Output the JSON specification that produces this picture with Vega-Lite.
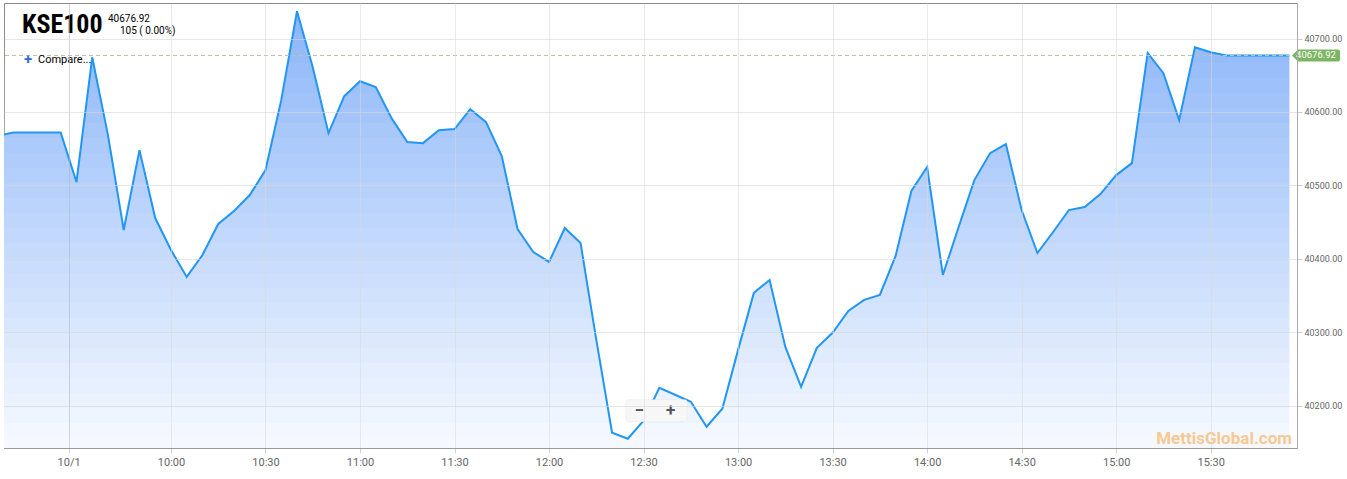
{
  "$schema": "https://vega.github.io/schema/vega-lite/v6.json",
  "width": 1293,
  "height": 445,
  "autosize": {"type": "none"},
  "padding": {"left": 4, "top": 3, "right": 50, "bottom": 31},
  "background": "white",
  "config": {"view": {"stroke": "#888888", "strokeWidth": 1}, "font": "Roboto"},
  "datasets": {
    "kse": [
      {"t": -25, "v": 40567.8}, {"t": -20, "v": 40571.92}, {"t": -15, "v": 40571.92}, {"t": -10, "v": 40571.92}, {"t": -5, "v": 40571.92},
      {"t": 0, "v": 40504.6}, {"t": 5, "v": 40674.5}, {"t": 10, "v": 40568.5}, {"t": 15, "v": 40439.3}, {"t": 20, "v": 40548.1},
      {"t": 25, "v": 40455.6}, {"t": 30, "v": 40412.1}, {"t": 35, "v": 40375.4}, {"t": 40, "v": 40405.3}, {"t": 45, "v": 40447.5},
      {"t": 50, "v": 40465.2}, {"t": 55, "v": 40486.9}, {"t": 60, "v": 40520.9}, {"t": 65, "v": 40616.1}, {"t": 70, "v": 40737.1},
      {"t": 75, "v": 40661.0}, {"t": 80, "v": 40571.2}, {"t": 85, "v": 40621.5}, {"t": 90, "v": 40641.9}, {"t": 95, "v": 40633.8},
      {"t": 100, "v": 40591.6}, {"t": 105, "v": 40559.0}, {"t": 110, "v": 40557.6}, {"t": 115, "v": 40575.3}, {"t": 120, "v": 40576.7},
      {"t": 125, "v": 40603.9}, {"t": 130, "v": 40586.2}, {"t": 135, "v": 40539.9}, {"t": 140, "v": 40440.7}, {"t": 145, "v": 40409.4},
      {"t": 150, "v": 40395.8}, {"t": 155, "v": 40442.0}, {"t": 160, "v": 40421.7}, {"t": 165, "v": 40289.7}, {"t": 170, "v": 40163.3},
      {"t": 175, "v": 40155.1}, {"t": 180, "v": 40179.6}, {"t": 185, "v": 40224.5}, {"t": 190, "v": 40215.0}, {"t": 195, "v": 40205.4},
      {"t": 200, "v": 40171.4}, {"t": 205, "v": 40195.9}, {"t": 210, "v": 40276.1}, {"t": 215, "v": 40353.7}, {"t": 220, "v": 40371.3},
      {"t": 225, "v": 40280.2}, {"t": 230, "v": 40225.8}, {"t": 235, "v": 40278.8}, {"t": 240, "v": 40299.3}, {"t": 245, "v": 40329.2},
      {"t": 250, "v": 40344.2}, {"t": 255, "v": 40351.0}, {"t": 260, "v": 40404.0}, {"t": 265, "v": 40492.4}, {"t": 270, "v": 40525.0},
      {"t": 275, "v": 40378.1}, {"t": 280, "v": 40443.4}, {"t": 285, "v": 40507.3}, {"t": 290, "v": 40544.0}, {"t": 295, "v": 40556.3},
      {"t": 300, "v": 40466.5}, {"t": 305, "v": 40408.0}, {"t": 310, "v": 40436.6}, {"t": 315, "v": 40466.5}, {"t": 320, "v": 40470.6},
      {"t": 325, "v": 40488.3}, {"t": 330, "v": 40514.1}, {"t": 335, "v": 40530.4}, {"t": 340, "v": 40680.4}, {"t": 345, "v": 40652.8},
      {"t": 350, "v": 40588.9}, {"t": 355, "v": 40688.2}, {"t": 360, "v": 40681.4}, {"t": 365, "v": 40676.92}, {"t": 370, "v": 40676.92},
      {"t": 375, "v": 40676.92}, {"t": 380, "v": 40676.92}, {"t": 385, "v": 40676.92}
    ],
    "fade": [
      {"lo": 40707.5528, "hi": 40727.9764}, {"lo": 40687.1292, "hi": 40707.5528}, {"lo": 40666.7056, "hi": 40687.1292},
      {"lo": 40646.282, "hi": 40666.7056}, {"lo": 40625.8584, "hi": 40646.282}, {"lo": 40605.4348, "hi": 40625.8584},
      {"lo": 40585.0112, "hi": 40605.4348}, {"lo": 40564.5876, "hi": 40585.0112}, {"lo": 40544.164, "hi": 40564.5876},
      {"lo": 40523.7404, "hi": 40544.164}, {"lo": 40503.3168, "hi": 40523.7404}, {"lo": 40482.8932, "hi": 40503.3168},
      {"lo": 40462.4696, "hi": 40482.8932}, {"lo": 40442.046, "hi": 40462.4696}, {"lo": 40421.6224, "hi": 40442.046},
      {"lo": 40401.1988, "hi": 40421.6224}, {"lo": 40380.7752, "hi": 40401.1988}, {"lo": 40360.3516, "hi": 40380.7752},
      {"lo": 40339.928, "hi": 40360.3516}, {"lo": 40319.5044, "hi": 40339.928}, {"lo": 40299.0808, "hi": 40319.5044},
      {"lo": 40278.6572, "hi": 40299.0808}, {"lo": 40258.2336, "hi": 40278.6572}, {"lo": 40237.81, "hi": 40258.2336},
      {"lo": 40217.3864, "hi": 40237.81}, {"lo": 40196.9628, "hi": 40217.3864}, {"lo": 40176.5392, "hi": 40196.9628},
      {"lo": 40156.1156, "hi": 40176.5392}, {"lo": 40142.5, "hi": 40156.1156}
    ]
  },
  "layer": [
    {
      "data": {"name": "kse"},
      "mark": {"type": "area", "clip": true, "opacity": 1, "color": "#8bb5f9"},
      "encoding": {
        "x": {
          "field": "t", "type": "quantitative",
          "scale": {"domain": [-23, 387.4], "nice": false, "zero": false},
          "axis": {
            "title": null,
            "zindex": 1,
            "values": [-2.5, 30, 60, 90, 120, 150, 180, 210, 240, 270, 300, 330, 360],
            "labelExpr": "datum.value < 0 ? '10/1' : floor((570 + datum.value) / 60) + ':' + (((570 + datum.value) % 60) < 10 ? '0' : '') + ((570 + datum.value) % 60)",
            "grid": true,
            "gridColor": {"condition": {"test": "datum.value < 0", "value": "#aab4c8"}, "value": "#d8d8d8"},
            "gridOpacity": 0.55,
            "domainColor": "#999999",
            "tickColor": "#ccd6eb",
            "tickSize": 5,
            "labelColor": "#666666",
            "labelFontSize": 11,
            "labelPadding": 3,
            "labelFont": "Roboto"
          }
        },
        "y": {
          "field": "v", "type": "quantitative",
          "scale": {"domain": [40142.5, 40748.4], "nice": false, "zero": false},
          "axis": {
            "title": null,
            "zindex": 1,
            "orient": "right",
            "values": [40200, 40300, 40400, 40500, 40600, 40700],
            "format": ".2f",
            "grid": true,
            "gridColor": "#d6d6d6",
            "gridOpacity": 0.6,
            "domainColor": "#aaaaaa",
            "tickColor": "#cccccc",
            "tickSize": 5,
            "labelPadding": 2,
            "labelColor": "#666666",
            "labelFontSize": 9,
            "labelFont": "Roboto"
          }
        }
      }
    },
    {
      "data": {"name": "fade"},
      "mark": {"type": "rect", "color": "#ffffff", "strokeWidth": 0, "clip": true},
      "encoding": {
        "y": {"field": "hi", "type": "quantitative"},
        "y2": {"field": "lo"},
        "opacity": {"field": "lo", "type": "quantitative", "scale": {"domain": [40142.5, 40727.9764], "range": [0.914, 0]}, "legend": null}
      }
    },
    {
      "data": {"name": "kse"},
      "mark": {"type": "line", "clip": true, "color": "#2196f3", "strokeWidth": 2},
      "encoding": {
        "x": {"field": "t", "type": "quantitative"},
        "y": {"field": "v", "type": "quantitative"}
      }
    },
    {
      "data": {"values": [{}]},
      "mark": {"type": "rule", "color": "#b9c6ab", "strokeDash": [4, 3], "strokeWidth": 1},
      "encoding": {"y": {"datum": 40676.92}}
    },
    {
      "data": {"values": [{}]},
      "mark": {
        "type": "point", "filled": true, "clip": false, "size": 4, "opacity": 1,
        "color": "#7cb562", "strokeWidth": 0,
        "shape": "M-5,0 L1,-6 L41,-6 Q43,-6 43,-4 L43,4 Q43,6 41,6 L1,6 Z"
      },
      "encoding": {"x": {"datum": 387.4}, "y": {"datum": 40676.92}}
    },
    {
      "data": {"values": [{"label": "40676.92"}]},
      "mark": {"type": "text", "clip": false, "align": "center", "baseline": "middle", "dx": 19, "color": "#ffffff", "fontSize": 9.5, "font": "Roboto"},
      "encoding": {"x": {"datum": 387.4}, "y": {"datum": 40676.92}, "text": {"field": "label"}}
    },
    {
      "data": {"values": [{}]},
      "mark": {"type": "rect", "color": "#f7f7f7", "opacity": 1, "cornerRadius": 2, "stroke": "#e4e4e4", "strokeWidth": 0.5},
      "encoding": {"x": {"datum": 174.4}, "x2": {"datum": 193.8}, "y": {"datum": 40208.2}, "y2": {"datum": 40178.3}}
    },
    {
      "data": {"values": [{"label": "−", "dx": -4}, {"label": "+", "dx": 27}]},
      "mark": {"type": "text", "align": "center", "baseline": "middle", "fontSize": 17, "fontWeight": "bold", "color": "#555555", "font": "Roboto"},
      "encoding": {"x": {"datum": 180}, "y": {"datum": 40193}, "text": {"field": "label"}, "xOffset": {"field": "dx", "type": "quantitative", "scale": null}}
    },
    {
      "data": {"values": [{"label": "MettisGlobal.com"}]},
      "mark": {"type": "text", "align": "right", "baseline": "alphabetic", "dx": -5, "dy": -4, "fontSize": 17, "fontWeight": "bold", "color": "#f7c893", "font": "Roboto"},
      "encoding": {"x": {"datum": 387.4}, "y": {"datum": 40142.5}, "text": {"field": "label"}}
    },
    {
      "data": {"values": [{"label": "KSE100"}]},
      "mark": {"type": "text", "align": "left", "baseline": "alphabetic", "dx": 18, "dy": 30, "fontSize": 26, "fontWeight": "bold", "color": "#000000", "font": "Liberation Sans Narrow, Roboto Condensed, Roboto"},
      "encoding": {"x": {"datum": -23}, "y": {"datum": 40748.4}, "text": {"field": "label"}}
    },
    {
      "data": {"values": [{"label": "40676.92"}]},
      "mark": {"type": "text", "align": "left", "baseline": "alphabetic", "dx": 104, "dy": 18.5, "fontSize": 10, "color": "#000000", "font": "Roboto"},
      "encoding": {"x": {"datum": -23}, "y": {"datum": 40748.4}, "text": {"field": "label"}}
    },
    {
      "data": {"values": [{"label": "105 ( 0.00%)"}]},
      "mark": {"type": "text", "align": "left", "baseline": "alphabetic", "dx": 116, "dy": 31, "fontSize": 10, "color": "#000000", "font": "Roboto"},
      "encoding": {"x": {"datum": -23}, "y": {"datum": 40748.4}, "text": {"field": "label"}}
    },
    {
      "data": {"values": [{"label": "+"}]},
      "mark": {"type": "text", "align": "center", "baseline": "middle", "dx": 24, "dy": 56, "fontSize": 15, "fontWeight": "bold", "color": "#2f6bd3", "font": "Roboto"},
      "encoding": {"x": {"datum": -23}, "y": {"datum": 40748.4}, "text": {"field": "label"}}
    },
    {
      "data": {"values": [{"label": "Compare..."}]},
      "mark": {"type": "text", "align": "left", "baseline": "alphabetic", "dx": 34, "dy": 60, "fontSize": 11, "color": "#000000", "font": "Roboto"},
      "encoding": {"x": {"datum": -23}, "y": {"datum": 40748.4}, "text": {"field": "label"}}
    }
  ]
}
